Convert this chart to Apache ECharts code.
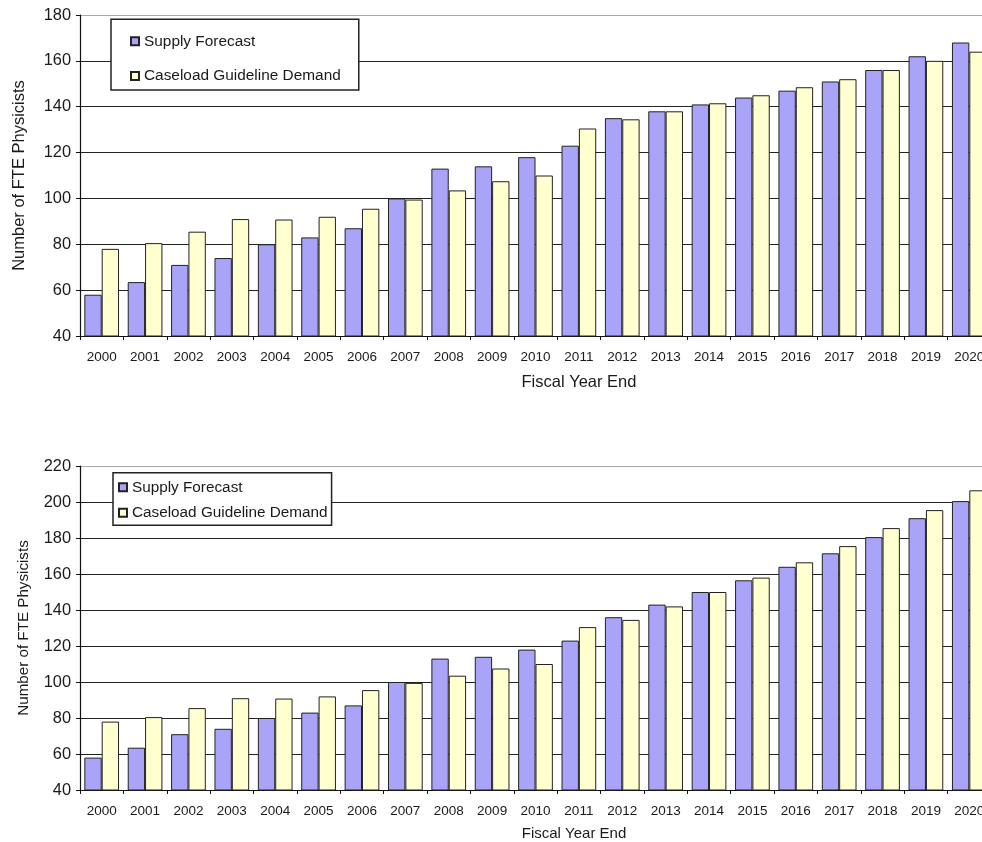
<!DOCTYPE html>
<html>
<head>
<meta charset="utf-8">
<script src="https://cdn.jsdelivr.net/npm/echarts@6/dist/echarts.min.js"></script>
<style>
html,body{margin:0;padding:0;background:#fff;overflow:hidden;width:982px;height:842px;}
#chart{width:991px;height:842px;}
</style>
</head>
<body>
<div id="chart"></div>
<script>
var years = ['2000','2001','2002','2003','2004','2005','2006','2007','2008','2009','2010','2011','2012','2013','2014','2015','2016','2017','2018','2019','2020'];
var supplyTop = [58, 63.5, 71, 74, 80, 83, 87, 100, 113, 114, 118, 123, 135, 138, 141, 144, 147, 151, 156, 162, 168];
var demandTop = [78, 80.5, 85.5, 91, 90.8, 92, 95.5, 99.5, 103.5, 107.5, 110, 130.5, 134.5, 138, 141.5, 145, 148.5, 152, 156, 160, 164];
var supplyBottom = [58, 63.5, 71, 74, 80, 83, 87, 100, 113, 114, 118, 123, 136, 143, 150, 156.5, 164, 171.5, 180.5, 191, 200.5];
var demandBottom = [78, 80.5, 85.5, 91, 90.8, 92, 95.5, 99.5, 103.5, 107.5, 110, 130.5, 134.5, 142, 150, 158, 166.5, 175.5, 185.5, 195.5, 206.5];
var seriesNames = ['Supply Forecast', 'Caseload Guideline Demand'];
var yTitle = 'Number of FTE Physicists';
var xTitle = 'Fiscal Year End';

var FONT = 'Liberation Sans, Arial, sans-serif';
var TXT = '#1a1a1a';
var purple = '#A9A4F8';
var yellow = '#FFFFCF';

function splitColors(n){
  var a = [];
  for (var i = 0; i < n - 1; i++) a.push('#222');
  a.push('#aaa');
  return a;
}

function xAxisCfg(gi, nameSize, nameGap, namePadLeft){
  return {
    type: 'category', gridIndex: gi, data: years,
    boundaryGap: true,
    axisLine: {lineStyle: {color: '#111', width: 1.2}},
    axisTick: {show: true, length: 4, lineStyle: {color: '#111'}},
    axisLabel: {fontFamily: FONT, fontSize: 13.5, color: TXT, margin: 14, interval: 0},
    name: xTitle, nameLocation: 'middle', nameGap: nameGap,
    nameTextStyle: {fontFamily: FONT, fontSize: nameSize, color: TXT, padding: [0,0,0,namePadLeft]}
  };
}
function yAxisCfg(gi, max, nameSize, nameGap, nLines){
  return {
    type: 'value', gridIndex: gi, min: 40, max: max, interval: 20,
    axisLine: {show: true, lineStyle: {color: '#111', width: 1.2}},
    axisTick: {show: true, length: 4, lineStyle: {color: '#111'}},
    axisLabel: {fontFamily: FONT, fontSize: 16.4, color: TXT, margin: 9},
    splitLine: {show: true, lineStyle: {color: splitColors(nLines), width: 1.2}},
    name: yTitle, nameLocation: 'middle', nameGap: nameGap, nameRotate: 90,
    nameTextStyle: {fontFamily: FONT, fontSize: nameSize, color: TXT}
  };
}
function bar(name, data, color, gi){
  return {
    name: name, type: 'bar', xAxisIndex: gi, yAxisIndex: gi, data: data,
    barGap: '0%', barCategoryGap: '20%',
    itemStyle: {color: color, borderColor: '#222', borderWidth: 1},
    emphasis: {disabled: true}
  };
}

var chart = echarts.init(document.getElementById('chart'), null, {renderer: 'canvas', width: 991, height: 842});
chart.setOption({
  backgroundColor: '#fff',
  animation: false,
  grid: [
    {left: 80, top: 15, right: 0, bottom: 506, containLabel: false},
    {left: 80, top: 466, right: 0, bottom: 51.3, containLabel: false}
  ],
  legend: [
    {
      data: seriesNames, orient: 'vertical', left: 111, top: 19.3,
      padding: [13, 18, 5, 19], itemGap: 16.7, itemWidth: 8, itemHeight: 8,
      itemTextGap: 4, icon: 'rect',
      borderColor: '#222', borderWidth: 1.5, backgroundColor: '#fff',
      textStyle: {fontFamily: FONT, fontSize: 15.4, color: TXT, lineHeight: 18},
      selectedMode: false
    },
    {
      data: seriesNames, orient: 'vertical', left: 113, top: 472.7,
      padding: [5.6, 4, 3.6, 5], itemGap: 7.4, itemWidth: 8, itemHeight: 8,
      itemTextGap: 4, icon: 'rect',
      borderColor: '#222', borderWidth: 1.5, backgroundColor: '#fff',
      textStyle: {fontFamily: FONT, fontSize: 15.3, color: TXT, lineHeight: 18},
      selectedMode: false
    }
  ],
  xAxis: [xAxisCfg(0, 16.5, 38, 87), xAxisCfg(1, 15, 36, 77)],
  yAxis: [yAxisCfg(0, 180, 16.5, 52, 8), yAxisCfg(1, 220, 15.2, 49, 10)],
  series: [
    bar(seriesNames[0], supplyTop, purple, 0),
    bar(seriesNames[1], demandTop, yellow, 0),
    bar(seriesNames[0], supplyBottom, purple, 1),
    bar(seriesNames[1], demandBottom, yellow, 1)
  ]
});
</script>
</body>
</html>
